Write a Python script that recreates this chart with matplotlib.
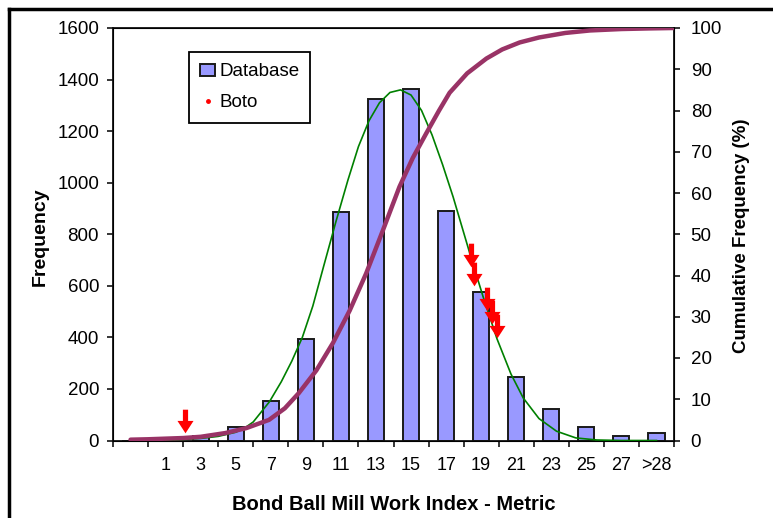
import matplotlib
matplotlib.use('Agg')
import matplotlib.pyplot as plt
from matplotlib.lines import Line2D
from matplotlib.patches import Patch
from matplotlib.path import Path
import numpy as np

plt.rcParams['font.family'] = ['Liberation Sans', 'DejaVu Sans']

# Categories (first slot is unlabeled)
categories = ['', '1', '3', '5', '7', '9', '11', '13', '15', '17', '19', '21', '23', '25', '27', '>28']
frequency = [0, 0, 18, 52, 155, 392, 885, 1325, 1363, 891, 577, 245, 121, 54, 18, 28]

# Fitted normal curve (category position vs frequency)
normal_x = [1.0, 1.5, 2.0, 2.5, 3.0, 3.25, 3.5, 3.96, 4.3, 4.6, 4.9, 5.2, 5.5, 5.86, 6.2, 6.5,
            6.8, 7.1, 7.4, 7.7, 8.0, 8.3, 8.6, 8.9, 9.2, 9.45, 9.7, 10.05, 10.45, 10.85,
            11.2, 11.65, 12.15, 12.7, 13.3, 14.0, 15.0]
normal_y = [2, 4, 8, 16, 32, 48, 72, 150, 228, 308, 400, 522, 672, 850, 1010, 1140,
            1240, 1310, 1350, 1360, 1340, 1280, 1185, 1070, 945, 830, 715, 560, 395, 258,
            165, 85, 36, 10, 2, 0, 0]

# Cumulative frequency (%)
cum_x = [0.0, 0.5, 1.0, 1.5, 2.0, 2.7, 3.3, 3.95, 4.4, 4.8, 5.3, 5.77, 6.25, 6.72, 7.2,
         7.67, 8.05, 8.43, 8.8, 9.1, 9.6, 10.15, 10.6, 11.1, 11.65, 12.4, 13.1, 14.0, 14.8, 15.5]
cum_y = [0.2, 0.3, 0.45, 0.6, 0.9, 1.8, 3.0, 5.0, 7.8, 11.5, 17.0, 23.6, 31.5, 40.5, 51.0,
         61.5, 68.5, 74.4, 80.0, 84.3, 89.0, 92.6, 94.8, 96.5, 97.7, 98.8, 99.4, 99.75, 99.9, 100]

# Boto samples (category position, frequency)
boto_x = [1.55, 9.72, 9.81, 10.16, 10.30, 10.44]
boto_y = [76, 719, 646, 549, 499, 444]

fig = plt.figure(figsize=(7.73, 5.18), dpi=100)
ax = fig.add_axes([113 / 773, 77.5 / 518, 561 / 773, 412.5 / 518])

x = np.arange(len(categories))
ax.bar(x, frequency, width=0.46, color='#9999FF', edgecolor='#1a1a1a', linewidth=1.4, zorder=2)
ax.plot(normal_x, normal_y, color='#008000', linewidth=1.2, zorder=3)

ax.set_xlim(-0.5, len(categories) - 0.5)
ax.set_ylim(0, 1600)
ax.set_yticks(np.arange(0, 1601, 200))
ax.set_xticks(x)
ax.set_xticklabels(categories)
ax.set_xticks(np.arange(-0.5, len(categories), 1.0), minor=True)
ax.tick_params(axis='x', which='major', length=0, pad=12, labelsize=13)
ax.tick_params(axis='x', which='minor', length=4, width=1.1, direction='out')
ax.tick_params(axis='y', length=4, width=1.1, direction='out', pad=6, labelsize=13.5)
for s in ax.spines.values():
    s.set_linewidth(1.3)
    s.set_color('#111111')

ax2 = ax.twinx()
ax2.set_ylim(0, 100)
ax2.set_yticks(np.arange(0, 101, 10))
ax2.tick_params(axis='y', length=4, width=1.1, direction='out', pad=8, labelsize=13.5)
ax2.plot(cum_x, cum_y, color='#993366', linewidth=3.2, solid_capstyle='round',
         solid_joinstyle='round', zorder=3)

# Downward arrow marker for Boto points
arrow = Path([(-0.22, 1.0), (0.22, 1.0), (0.22, 0.05), (0.68, 0.05), (0.0, -1.0),
              (-0.68, 0.05), (-0.22, 0.05), (-0.22, 1.0)],
             [Path.MOVETO] + [Path.LINETO] * 6 + [Path.CLOSEPOLY])
ax2.plot(boto_x, boto_y, linestyle='none', marker=arrow, markersize=17,
         color='#FF0000', markeredgewidth=0, transform=ax.transData, zorder=4)

handles = [Patch(facecolor='#9999FF', edgecolor='#1a1a1a', linewidth=1.4),
           Line2D([], [], linestyle='none', marker='o', markersize=2.5, color='#FF0000')]
leg = ax2.legend(handles, ['Database', 'Boto'], loc='upper left',
                 bbox_to_anchor=(0.1355, 0.9418), borderaxespad=0, fontsize=13.5,
                 fancybox=False, framealpha=1, edgecolor='black', handlelength=0.8,
                 handleheight=0.6, handletextpad=0.2, labelspacing=0.75, borderpad=0.6)
leg.get_frame().set_linewidth(1.3)

fig.text(40 / 773, 1 - 237 / 518, 'Frequency', rotation=90, ha='center', va='center',
         fontsize=14, fontweight='bold')
fig.text(742 / 773, 1 - 236 / 518, 'Cumulative Frequency (%)', rotation=90, ha='center',
         va='center', fontsize=13.5, fontweight='bold')
fig.text(394 / 773, 1 - 504 / 518, 'Bond Ball Mill Work Index - Metric', ha='center',
         va='center', fontsize=14.5, fontweight='bold')

# Outer frame (top and left edges)
fig.add_artist(Line2D([8.5 / 773, 1], [1 - 8.5 / 518, 1 - 8.5 / 518], color='black', linewidth=2.5))
fig.add_artist(Line2D([8.5 / 773, 8.5 / 773], [0, 1 - 8.5 / 518], color='black', linewidth=2.5))

fig.savefig('out.png', dpi=100)
